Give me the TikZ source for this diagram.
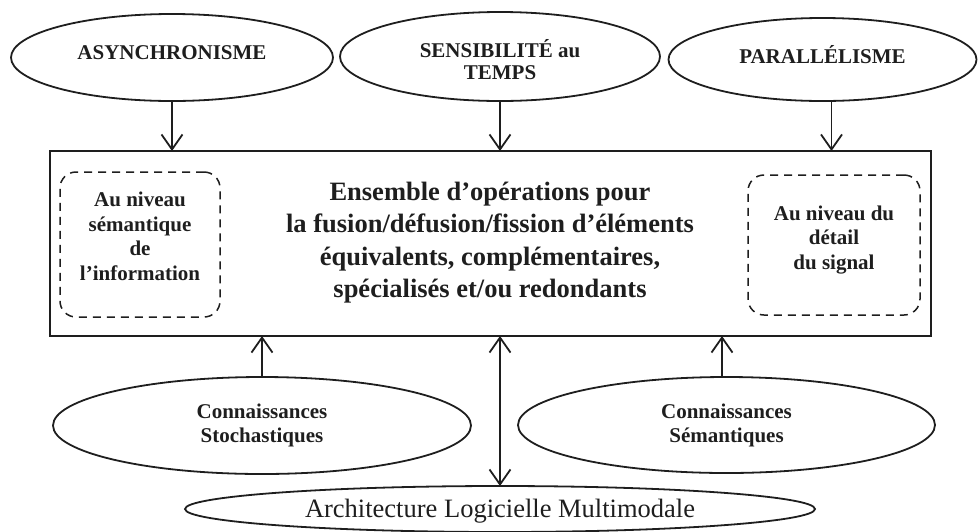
\documentclass[tikz,border=0pt]{standalone}
\usepackage{fontspec}
\setmainfont{Liberation Serif}
\usetikzlibrary{shapes.geometric,arrows.meta}
\definecolor{ink}{RGB}{30,30,30}
\tikzset{
  every node/.style={inner sep=0pt, outer sep=0pt},
  ell/.style={draw=ink, ellipse, line width=1.8pt},
  lbl/.style={text=ink, align=center, font=\bfseries\fontsize{21}{22}\selectfont},
  boxlbl/.style={text=ink, align=center, font=\bfseries\fontsize{21}{24.5}\selectfont},
  mainlbl/.style={text=ink, align=center, font=\bfseries\fontsize{26.5}{32.5}\selectfont},
  dbox/.style={draw=ink, line width=1.5pt, rounded corners=16pt, dash pattern=on 8pt off 6pt},
  arr/.style={draw=ink, line width=1.8pt, -{Straight Barb[length=15pt,width=21pt]}},
  darr/.style={draw=ink, line width=1.8pt, {Straight Barb[length=15pt,width=21pt]}-{Straight Barb[length=15pt,width=21pt]}}
}
\begin{document}
\begin{tikzpicture}[x=1pt,y=-1pt]
\useasboundingbox (0,0) rectangle (979,531);

% top ellipses
\node[ell, minimum width=322, minimum height=87] (async) at (172,57.5) {};
\node[lbl] (asynct) at ([yshift=5pt]async.center) {ASYNCHRONISME};
\node[ell, minimum width=320, minimum height=89] (sens) at (500,56.5) {};
\node[lbl] (senst) at ([yshift=-3pt]sens.center) {SENSIBILITÉ au\\TEMPS};
\node[ell, minimum width=308, minimum height=83] (para) at (822.5,59.5) {};
\node[lbl] (parat) at ([yshift=5pt]para.center) {PARALLÉLISME};

% central frame
\node[draw=ink, line width=1.8pt, minimum width=881, minimum height=185] (main) at (490.5,243.5) {};
\node[mainlbl] (maint) at (490,242.5) {Ensemble d’opérations pour\\la fusion/défusion/fission d’éléments\\équivalents, complémentaires,\\spécialisés et/ou redondants};

% dashed inner boxes
\node[dbox, minimum width=160, minimum height=145] (lbox) at (140,244.5) {};
\node[boxlbl] (lboxt) at ([yshift=8pt]lbox.center) {Au niveau\\sémantique\\de\\l’information};
\node[dbox, minimum width=172, minimum height=140] (rbox) at (834,245) {};
\node[boxlbl] (rboxt) at ([yshift=5pt]rbox.center) {Au niveau du\\détail\\du signal};

% bottom ellipses
\node[ell, minimum width=418, minimum height=97] (stoch) at (262,425.5) {};
\node[lbl, font=\bfseries\fontsize{21}{24}\selectfont] (stocht) at (stoch.center) {Connaissances\\Stochastiques};
\node[ell, minimum width=417, minimum height=96] (sem) at (726.5,425) {};
\node[lbl, font=\bfseries\fontsize{21}{24}\selectfont] (semt) at (sem.center) {Connaissances\\Sémantiques};
\node[ell, minimum width=630, minimum height=46] (arch) at (500,509) {};
\node[text=ink, font=\fontsize{26.5}{30}\selectfont] (archt) at ([yshift=-2pt]arch.center) {Architecture Logicielle Multimodale};

% connectors
\draw[arr] (async.south) -- (async.south |- main.north);
\draw[arr] (sens.south) -- (sens.south |- main.north);
\draw[arr] ([xshift=9pt]para.south) -- ([xshift=9pt]para.south |- main.north);
\draw[arr] (stoch.north) -- (stoch.north |- main.south);
\draw[arr] ([xshift=-4.5pt]sem.north) -- ([xshift=-4.5pt]sem.north |- main.south);
\draw[darr] (arch.north |- main.south) -- (arch.north);
\end{tikzpicture}
\end{document}
